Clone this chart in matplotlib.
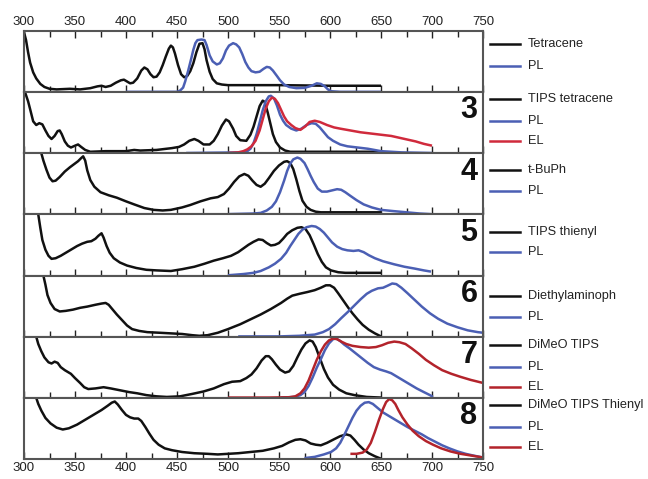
import matplotlib
matplotlib.use("Agg")
import matplotlib.pyplot as plt
from matplotlib.lines import Line2D
from matplotlib.ticker import MultipleLocator

plt.rcParams['font.family'] = ['Liberation Sans', 'DejaVu Sans']

# ---------------- data (normalised intensities) ----------------
# Panel 1: Tetracene
tet_abs_x = [300, 302, 304, 306, 309, 312, 316, 320, 325, 332, 345, 355, 365, 372, 376, 380, 385, 390, 395, 398, 401, 404, 407, 411, 415, 418, 421, 424, 427, 430, 433, 436, 439, 442, 444, 446, 448, 451, 454, 457, 460, 463, 466, 469, 472, 475, 477, 479, 482, 485, 489, 494, 500, 550, 600, 650]
tet_abs_y = [0.98, 0.85, 0.65, 0.48, 0.32, 0.22, 0.13, 0.08, 0.05, 0.04, 0.05, 0.04, 0.06, 0.09, 0.10, 0.08, 0.10, 0.15, 0.19, 0.20, 0.17, 0.14, 0.15, 0.22, 0.35, 0.40, 0.37, 0.29, 0.24, 0.25, 0.32, 0.44, 0.58, 0.71, 0.76, 0.73, 0.63, 0.44, 0.29, 0.24, 0.26, 0.34, 0.47, 0.65, 0.79, 0.80, 0.70, 0.52, 0.33, 0.21, 0.14, 0.12, 0.11, 0.11, 0.10, 0.10]
tet_pl_x = [400, 450, 453, 456, 458, 461, 464, 466, 468, 470, 474, 477, 479, 482, 485, 489, 492, 495, 498, 501, 505, 508, 511, 514, 517, 520, 523, 527, 531, 535, 538, 541, 544, 548, 551, 555, 560, 567, 575, 582, 587, 591, 595, 598, 601, 610, 650]
tet_pl_y = [0.00, 0.00, 0.02, 0.07, 0.17, 0.35, 0.55, 0.69, 0.80, 0.85, 0.86, 0.85, 0.77, 0.60, 0.50, 0.45, 0.47, 0.55, 0.68, 0.76, 0.80, 0.78, 0.73, 0.62, 0.49, 0.40, 0.34, 0.32, 0.33, 0.38, 0.41, 0.40, 0.35, 0.26, 0.19, 0.12, 0.08, 0.06, 0.065, 0.10, 0.14, 0.13, 0.09, 0.04, 0.01, 0.00, 0.00]

# Panel 2: TIPS tetracene (3)
tips_abs_x = [301, 304, 306, 309, 312, 315, 318, 321, 324, 327, 330, 333, 335, 337, 340, 343, 346, 350, 353, 356, 360, 365, 380, 400, 408, 414, 430, 445, 452, 457, 462, 467, 471, 476, 482, 486, 490, 494, 498, 501, 505, 508, 512, 518, 522, 525, 528, 531, 534, 536, 539, 542, 544, 547, 551, 556, 561, 600, 650]
tips_abs_y = [1.00, 0.85, 0.72, 0.52, 0.46, 0.49, 0.47, 0.37, 0.28, 0.23, 0.28, 0.36, 0.37, 0.31, 0.19, 0.12, 0.09, 0.12, 0.14, 0.10, 0.05, 0.02, 0.03, 0.03, 0.05, 0.04, 0.05, 0.08, 0.10, 0.14, 0.20, 0.23, 0.20, 0.14, 0.14, 0.20, 0.31, 0.45, 0.55, 0.52, 0.40, 0.28, 0.21, 0.20, 0.30, 0.43, 0.60, 0.77, 0.86, 0.84, 0.66, 0.45, 0.31, 0.18, 0.09, 0.04, 0.02, 0.02, 0.02]
tips_pl_x = [459, 515, 519, 522, 525, 528, 531, 534, 537, 540, 542, 545, 548, 551, 554, 557, 562, 567, 572, 577, 582, 586, 590, 594, 598, 603, 610, 617, 627, 637, 650, 670, 700]
tips_pl_y = [0.00, 0.01, 0.03, 0.07, 0.16, 0.31, 0.50, 0.70, 0.85, 0.93, 0.94, 0.90, 0.78, 0.63, 0.53, 0.46, 0.40, 0.37, 0.40, 0.46, 0.49, 0.48, 0.42, 0.34, 0.26, 0.20, 0.14, 0.11, 0.09, 0.07, 0.03, 0.01, 0.00]
tips_el_x = [500, 510, 515, 519, 523, 527, 531, 534, 537, 540, 543, 546, 549, 552, 555, 558, 562, 566, 571, 576, 580, 585, 590, 597, 604, 610, 620, 630, 640, 650, 660, 668, 676, 684, 692, 700]
tips_el_y = [0.00, 0.01, 0.03, 0.06, 0.11, 0.20, 0.37, 0.55, 0.73, 0.85, 0.91, 0.89, 0.82, 0.71, 0.60, 0.52, 0.46, 0.41, 0.38, 0.44, 0.51, 0.53, 0.51, 0.46, 0.42, 0.40, 0.37, 0.34, 0.32, 0.30, 0.28, 0.25, 0.22, 0.19, 0.15, 0.12]

# Panel 3: t-BuPh (4)
tbu_abs_x = [317, 319, 322, 325, 328, 331, 335, 340, 345, 349, 353, 356, 358, 360, 362, 365, 369, 375, 383, 391, 400, 408, 418, 427, 436, 444, 455, 463, 473, 483, 490, 496, 501, 506, 511, 516, 520, 524, 528, 532, 536, 540, 545, 550, 555, 558, 561, 564, 567, 570, 573, 577, 581, 586, 591, 650]
tbu_abs_y = [1.00, 0.88, 0.73, 0.60, 0.54, 0.55, 0.61, 0.70, 0.77, 0.82, 0.87, 0.92, 0.95, 0.88, 0.72, 0.56, 0.45, 0.36, 0.31, 0.27, 0.21, 0.16, 0.10, 0.07, 0.06, 0.07, 0.11, 0.15, 0.21, 0.26, 0.28, 0.33, 0.42, 0.53, 0.62, 0.66, 0.63, 0.55, 0.48, 0.45, 0.50, 0.59, 0.71, 0.80, 0.86, 0.87, 0.84, 0.74, 0.57, 0.38, 0.22, 0.12, 0.07, 0.04, 0.03, 0.03]
tbu_pl_x = [500, 525, 532, 538, 543, 547, 551, 555, 558, 561, 564, 568, 571, 575, 578, 581, 584, 588, 592, 597, 602, 607, 611, 615, 620, 626, 633, 641, 650, 662, 675, 688, 699]
tbu_pl_y = [0.00, 0.01, 0.02, 0.06, 0.12, 0.21, 0.36, 0.55, 0.71, 0.83, 0.90, 0.93, 0.91, 0.84, 0.74, 0.63, 0.53, 0.42, 0.37, 0.37, 0.39, 0.41, 0.40, 0.36, 0.30, 0.23, 0.16, 0.11, 0.07, 0.05, 0.03, 0.01, 0.00]

# Panel 4: TIPS thienyl (5)
thi_abs_x = [314, 316, 318, 321, 324, 327, 331, 336, 341, 347, 352, 357, 362, 366, 370, 373, 376, 378, 381, 384, 388, 394, 401, 410, 420, 430, 444, 455, 467, 477, 486, 495, 503, 510, 515, 520, 525, 530, 534, 538, 542, 546, 550, 554, 558, 563, 568, 572, 576, 580, 584, 588, 592, 596, 601, 608, 615, 650]
thi_abs_y = [1.00, 0.78, 0.58, 0.42, 0.32, 0.27, 0.28, 0.32, 0.37, 0.43, 0.48, 0.52, 0.55, 0.56, 0.60, 0.65, 0.69, 0.62, 0.48, 0.37, 0.28, 0.21, 0.16, 0.12, 0.09, 0.08, 0.07, 0.10, 0.14, 0.19, 0.24, 0.28, 0.32, 0.38, 0.44, 0.50, 0.55, 0.59, 0.58, 0.53, 0.49, 0.50, 0.53, 0.60, 0.68, 0.74, 0.78, 0.79, 0.76, 0.66, 0.51, 0.35, 0.22, 0.13, 0.08, 0.05, 0.04, 0.04]
thi_pl_x = [500, 515, 525, 532, 540, 546, 552, 557, 561, 565, 569, 573, 577, 582, 586, 590, 594, 598, 602, 607, 612, 617, 623, 628, 633, 638, 644, 652, 663, 673, 683, 692, 699]
thi_pl_y = [0.00, 0.02, 0.04, 0.07, 0.13, 0.19, 0.27, 0.37, 0.48, 0.58, 0.68, 0.75, 0.79, 0.81, 0.80, 0.76, 0.70, 0.62, 0.54, 0.47, 0.43, 0.41, 0.40, 0.41, 0.38, 0.33, 0.28, 0.23, 0.18, 0.14, 0.11, 0.08, 0.06]

# Panel 5: Diethylaminoph (6)
dea_abs_x = [319, 321, 323, 326, 330, 335, 341, 348, 355, 362, 370, 376, 380, 383, 387, 391, 396, 401, 406, 413, 421, 433, 444, 455, 465, 472, 480, 490, 500, 512, 522, 532, 542, 552, 558, 563, 570, 578, 585, 591, 596, 600, 604, 608, 613, 618, 622, 627, 632, 638, 644, 650]
dea_abs_y = [1.00, 0.85, 0.68, 0.55, 0.45, 0.41, 0.42, 0.44, 0.47, 0.49, 0.52, 0.54, 0.55, 0.52, 0.44, 0.36, 0.27, 0.18, 0.12, 0.09, 0.07, 0.06, 0.05, 0.04, 0.02, 0.01, 0.02, 0.06, 0.12, 0.20, 0.28, 0.36, 0.45, 0.55, 0.62, 0.67, 0.70, 0.73, 0.76, 0.80, 0.84, 0.84, 0.80, 0.71, 0.59, 0.47, 0.38, 0.28, 0.19, 0.11, 0.05, 0.00]
dea_pl_x = [510, 550, 570, 585, 593, 599, 605, 611, 618, 624, 630, 636, 641, 647, 652, 656, 661, 665, 670, 676, 683, 690, 698, 706, 715, 725, 735, 745, 750]
dea_pl_y = [0.00, 0.00, 0.01, 0.03, 0.07, 0.12, 0.20, 0.30, 0.41, 0.51, 0.61, 0.70, 0.75, 0.79, 0.80, 0.83, 0.87, 0.86, 0.80, 0.71, 0.60, 0.49, 0.38, 0.29, 0.21, 0.15, 0.10, 0.07, 0.06]

# Panel 6: DiMeO TIPS (7)
dmo_abs_x = [312, 314, 317, 320, 324, 327, 330, 333, 336, 340, 343, 346, 350, 355, 359, 363, 370, 378, 385, 394, 403, 411, 420, 430, 440, 453, 465, 476, 486, 496, 504, 512, 518, 523, 528, 533, 537, 540, 543, 547, 551, 556, 560, 564, 568, 572, 576, 580, 583, 586, 590, 594, 598, 603, 609, 616, 624, 636, 650]
dmo_abs_y = [1.00, 0.88, 0.76, 0.66, 0.58, 0.56, 0.59, 0.57, 0.50, 0.45, 0.42, 0.39, 0.32, 0.24, 0.17, 0.14, 0.15, 0.17, 0.15, 0.12, 0.09, 0.07, 0.04, 0.02, 0.01, 0.02, 0.06, 0.10, 0.15, 0.22, 0.26, 0.27, 0.32, 0.38, 0.48, 0.61, 0.68, 0.68, 0.63, 0.54, 0.46, 0.41, 0.43, 0.52, 0.66, 0.79, 0.89, 0.94, 0.92, 0.83, 0.65, 0.47, 0.33, 0.21, 0.13, 0.07, 0.04, 0.01, 0.00]
dmo_pl_x = [552, 565, 571, 575, 579, 583, 587, 591, 595, 599, 603, 606, 610, 614, 619, 625, 631, 637, 643, 649, 655, 660, 665, 671, 678, 685, 692, 698, 701]
dmo_pl_y = [0.00, 0.01, 0.04, 0.09, 0.19, 0.33, 0.49, 0.63, 0.78, 0.89, 0.96, 0.97, 0.93, 0.87, 0.81, 0.73, 0.65, 0.57, 0.50, 0.46, 0.43, 0.40, 0.35, 0.29, 0.22, 0.15, 0.09, 0.04, 0.01]
dmo_el_x = [500, 540, 560, 566, 571, 575, 579, 583, 587, 591, 595, 599, 603, 607, 611, 616, 622, 630, 638, 645, 651, 657, 663, 668, 674, 680, 687, 694, 702, 710, 719, 728, 738, 750]
dmo_el_y = [0.00, 0.00, 0.005, 0.02, 0.07, 0.15, 0.28, 0.45, 0.62, 0.76, 0.87, 0.94, 0.97, 0.96, 0.92, 0.88, 0.85, 0.83, 0.82, 0.83, 0.86, 0.90, 0.92, 0.91, 0.88, 0.81, 0.72, 0.62, 0.53, 0.45, 0.39, 0.34, 0.29, 0.24]

# Panel 7: DiMeO TIPS Thienyl (8)
dmt_abs_x = [312, 314, 317, 321, 326, 332, 338, 344, 352, 360, 368, 376, 382, 386, 389, 392, 396, 400, 404, 408, 412, 415, 419, 423, 427, 432, 438, 445, 455, 467, 480, 490, 500, 510, 522, 534, 545, 553, 560, 566, 571, 576, 581, 586, 591, 597, 604, 610, 616, 620, 624, 628, 633, 638, 644, 650]
dmt_abs_y = [1.00, 0.90, 0.79, 0.67, 0.58, 0.51, 0.48, 0.50, 0.56, 0.64, 0.72, 0.80, 0.87, 0.92, 0.94, 0.89, 0.80, 0.72, 0.68, 0.66, 0.66, 0.62, 0.52, 0.41, 0.31, 0.23, 0.17, 0.14, 0.11, 0.09, 0.08, 0.07, 0.08, 0.09, 0.11, 0.13, 0.17, 0.21, 0.27, 0.31, 0.32, 0.30, 0.25, 0.23, 0.22, 0.26, 0.32, 0.37, 0.40, 0.38, 0.31, 0.23, 0.15, 0.09, 0.04, 0.00]
dmt_pl_x = [575, 585, 594, 601, 606, 610, 614, 618, 622, 626, 630, 634, 638, 642, 647, 652, 658, 664, 670, 676, 683, 690, 696, 703, 710, 717, 725, 733, 741, 750]
dmt_pl_y = [0.01, 0.03, 0.07, 0.11, 0.17, 0.26, 0.39, 0.53, 0.67, 0.79, 0.87, 0.92, 0.93, 0.90, 0.83, 0.76, 0.70, 0.64, 0.58, 0.52, 0.46, 0.40, 0.34, 0.28, 0.22, 0.17, 0.12, 0.08, 0.05, 0.02]
dmt_el_x = [620, 626, 632, 636, 640, 644, 648, 652, 655, 658, 661, 664, 667, 671, 676, 681, 687, 694, 701, 709, 718, 728, 739, 750]
dmt_el_y = [0.08, 0.08, 0.10, 0.15, 0.26, 0.44, 0.64, 0.82, 0.93, 0.98, 0.96, 0.90, 0.80, 0.68, 0.56, 0.46, 0.37, 0.29, 0.23, 0.17, 0.12, 0.08, 0.05, 0.02]

panel_numbers = ["", "3", "4", "5", "6", "7", "8"]
legend_labels = [
    ["Tetracene", "PL"],
    ["TIPS tetracene", "PL", "EL"],
    ["t-BuPh", "PL"],
    ["TIPS thienyl", "PL"],
    ["Diethylaminoph", "PL"],
    ["DiMeO TIPS", "PL", "EL"],
    ["DiMeO TIPS Thienyl", "PL", "EL"],
]

BLACK = "#111111"
BLUE = "#4b5fb4"
RED = "#d02a3c"
DRED = "#b3232b"

panels = [
    [(tet_abs_x, tet_abs_y, BLACK), (tet_pl_x, tet_pl_y, BLUE)],
    [(tips_abs_x, tips_abs_y, BLACK), (tips_pl_x, tips_pl_y, BLUE), (tips_el_x, tips_el_y, RED)],
    [(tbu_abs_x, tbu_abs_y, BLACK), (tbu_pl_x, tbu_pl_y, BLUE)],
    [(thi_abs_x, thi_abs_y, BLACK), (thi_pl_x, thi_pl_y, BLUE)],
    [(dea_abs_x, dea_abs_y, BLACK), (dea_pl_x, dea_pl_y, BLUE)],
    [(dmo_abs_x, dmo_abs_y, BLACK), (dmo_pl_x, dmo_pl_y, BLUE), (dmo_el_x, dmo_el_y, DRED)],
    [(dmt_abs_x, dmt_abs_y, BLACK), (dmt_pl_x, dmt_pl_y, BLUE), (dmt_el_x, dmt_el_y, DRED)],
]

# legend row positions (axes fraction) per panel
legend_rows = [
    [0.79, 0.43],
    [0.88, 0.53, 0.20],
    [0.72, 0.38],
    [0.72, 0.39],
    [0.66, 0.33],
    [0.87, 0.50, 0.17],
    [0.89, 0.52, 0.20],
]

fig = plt.figure(figsize=(6.48, 4.79), dpi=100)
left, right = 24 / 648, 483 / 648
top, bottom = 1 - 31 / 479, 1 - 459 / 479
n = len(panels)
h = (top - bottom) / n

for i, series in enumerate(panels):
    ax = fig.add_axes([left, top - (i + 1) * h, right - left, h])
    for xs, ys, c in series:
        ax.plot(xs, ys, color=c, lw=1.8, solid_capstyle='butt', solid_joinstyle='round')
    ax.set_xlim(300, 750)
    ax.set_ylim(-0.005, 1.0)
    ax.set_yticks([])
    ax.xaxis.set_major_locator(MultipleLocator(50))
    ax.xaxis.set_minor_locator(MultipleLocator(25))
    ax.tick_params(axis='x', which='both', direction='in', top=(i == 0), bottom=True,
                   labeltop=(i == 0), labelbottom=(i == n - 1), colors='#222222',
                   labelsize=9.5, pad=2)
    ax.tick_params(axis='x', which='major', length=5, width=1)
    ax.tick_params(axis='x', which='minor', length=4, width=1)
    for s in ax.spines.values():
        s.set_color('#555555')
        s.set_linewidth(1.5)
    if panel_numbers[i]:
        ax.text(0.988, 0.70, panel_numbers[i], transform=ax.transAxes, ha='right', va='center',
                fontsize=22, fontweight='bold', color='#111111',
                family=['Liberation Sans Narrow', 'Liberation Sans', 'DejaVu Sans'])
    colors = [c for _, _, c in series]
    for lab, c, yl in zip(legend_labels[i], colors, legend_rows[i]):
        ax.add_line(Line2D([1.015, 1.08], [yl, yl], transform=ax.transAxes, color=c,
                           lw=1.8, clip_on=False))
        ax.text(1.098, yl, lab, transform=ax.transAxes, ha='left', va='center',
                fontsize=9.2, color='#222222')

fig.savefig("out.png", dpi=100)
